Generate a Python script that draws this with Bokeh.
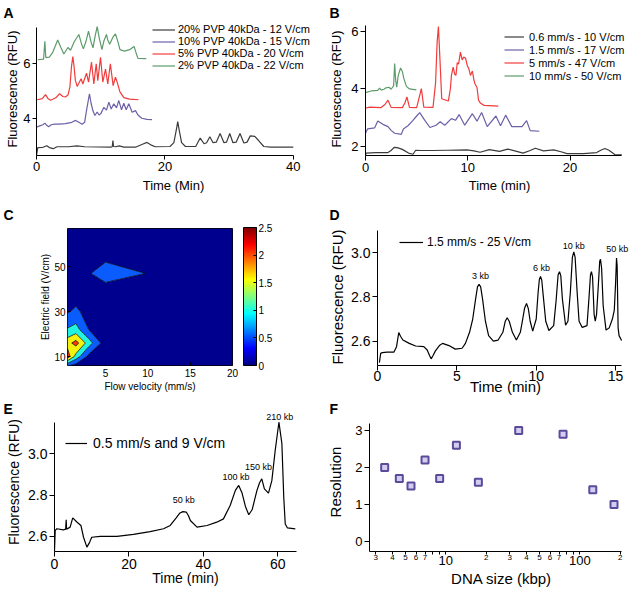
import numpy as np
from bokeh.plotting import figure
from bokeh.models import (Range1d, Legend, LegendItem, ColorBar, LinearColorMapper,
                          FixedTicker, LogAxis, PrintfTickFormatter)
from bokeh.layouts import column, row
from bokeh.embed import file_html
from bokeh.resources import INLINE
from bokeh.core.properties import value

FONT = "Liberation Sans"

# ---------------- data ----------------
# Panel A: PVP concentrations
a_labels = ["20% PVP 40kDa - 12 V/cm", "10% PVP 40kDa - 15 V/cm",
            "5% PVP 40kDa - 20 V/cm", "2% PVP 40kDa - 22 V/cm"]
a_black_t = [0, 0.2, 1.0, 1.6, 2.0, 2.6, 3.2, 5.0, 6.3, 7.5, 11.6, 11.8, 11.9, 12.0, 12.3, 12.9, 13.6,
             15.5, 16.6, 17.2, 17.8, 18.5, 20.8, 21.4, 21.8, 22.0, 22.2, 22.6, 23.2, 24.8, 25.5, 26.1,
             26.5, 27.0, 27.5, 28.0, 28.6, 29.2, 29.6, 30.1, 30.6, 31.1, 31.7, 32.3, 32.8, 33.3, 34.0,
             34.6, 35.4, 36.5, 40.0]
a_black_y = [2.63, 2.92, 2.93, 2.99, 2.92, 2.88, 2.95, 2.95, 2.98, 2.95, 2.94, 2.95, 3.18, 2.96, 2.95,
             2.98, 2.94, 2.94, 3.05, 3.11, 3.02, 2.95, 2.96, 3.10, 3.60, 3.88, 3.60, 3.10, 2.96, 2.96,
             3.27, 3.06, 3.10, 3.32, 3.10, 3.12, 3.44, 3.10, 3.12, 3.44, 3.10, 3.12, 3.44, 3.09, 3.12,
             3.35, 3.33, 3.18, 2.96, 2.94, 2.94]
a_purple_t = [0.0, 0.5, 1.0, 1.3, 1.6, 1.9, 2.3, 2.8, 3.5, 4.5, 5.5, 6.1, 6.6, 7.1, 7.5, 7.8, 8.25, 8.5,
              8.78, 9.1, 9.45, 9.75, 10.0, 10.5, 10.9, 11.27, 11.63, 12.04, 12.46, 12.82, 13.24, 13.6,
              13.97, 14.38, 14.9, 15.42, 15.8, 16.4, 17.2, 18.0]
a_purple_y = [3.67, 3.72, 3.76, 3.82, 3.74, 3.69, 3.76, 3.78, 3.78, 3.80, 3.85, 3.92, 3.85, 3.78, 3.85,
              4.30, 4.90, 4.55, 4.28, 4.10, 4.23, 4.12, 4.16, 4.40, 4.30, 4.59, 4.34, 4.53, 4.38, 4.65,
              4.31, 4.55, 4.31, 4.53, 4.22, 4.28, 4.12, 4.00, 3.96, 3.95]
a_red_t = [0.1, 0.9, 1.4, 1.8, 2.2, 3.0, 3.6, 4.1, 4.5, 4.9, 5.2, 5.45, 5.66, 5.85, 6.05, 6.33, 6.95,
           7.22, 7.79, 8.1, 8.57, 8.93, 9.3, 9.55, 9.97, 10.33, 10.75, 11.1, 11.5, 11.94, 12.3, 12.6,
           12.98, 13.6, 14.5, 15.9]
a_red_y = [4.68, 4.72, 4.87, 4.72, 4.66, 4.75, 4.90, 4.80, 4.78, 4.85, 5.14, 5.90, 6.27, 5.90, 5.40,
           5.17, 5.45, 5.26, 5.66, 5.33, 6.06, 5.26, 6.00, 5.38, 6.24, 5.33, 5.81, 5.26, 6.00, 5.20,
           5.51, 5.30, 4.98, 4.76, 4.70, 4.68]
a_green_t = [0.2, 1.1, 1.3, 1.45, 2.0, 2.5, 3.3, 3.8, 4.26, 4.9, 5.3, 5.9, 6.6, 7.0, 7.3, 7.7, 8.1, 8.5,
             8.8, 9.1, 9.45, 9.8, 10.2, 10.5, 10.9, 11.1, 11.4, 11.9, 12.3, 12.7, 13.0, 13.7, 14.5,
             15.2, 15.5, 15.8, 17.1]
a_green_y = [6.15, 6.17, 6.83, 6.23, 6.25, 6.41, 6.88, 6.60, 6.36, 6.60, 6.50, 6.82, 7.08, 6.74, 6.55,
             6.82, 7.20, 6.80, 6.59, 6.98, 7.37, 6.92, 6.52, 6.84, 7.08, 6.88, 6.72, 6.98, 7.10, 6.80,
             6.52, 6.47, 6.52, 6.64, 6.41, 6.20, 6.19]

# Panel B: flow velocity / field
b_labels = ["0.6 mm/s - 10 V/cm", "1.5 mm/s - 17 V/cm", "5 mm/s - 47 V/cm", "10 mm/s - 50 V/cm"]
b_black_t = [0, 0.05, 1.0, 2.2, 2.5, 2.8, 3.1, 3.6, 4.2, 4.65, 4.9, 5.5, 6.5, 8.0, 9.9, 10.6, 11.2,
             12.1, 13.1, 13.9, 14.6, 15.4, 16.1, 16.6, 17.4, 18.4, 19.2, 19.7, 21.3, 22.6, 23.0, 23.4,
             23.8, 24.4, 25.07]
b_black_y = [1.68, 1.76, 1.78, 1.78, 1.85, 1.96, 1.95, 1.89, 1.76, 1.72, 1.86, 1.85, 1.85, 1.86, 1.87,
             1.84, 1.79, 1.88, 1.82, 1.90, 1.84, 1.76, 1.85, 1.93, 1.84, 1.87, 1.80, 1.74, 1.74, 1.78,
             1.86, 1.92, 1.86, 1.70, 1.70]
b_purple_t = [0, 0.2, 0.9, 1.2, 1.7, 2.2, 2.5, 2.85, 3.5, 3.7, 4.15, 4.6, 5.0, 5.3, 5.8, 6.3, 6.9, 7.3,
              7.75, 8.4, 8.8, 9.15, 9.7, 10.45, 10.9, 11.35, 11.9, 12.75, 13.2, 13.7, 14.3, 15.3, 15.75,
              16.1, 17.0]
b_purple_y = [2.45, 2.60, 2.64, 2.88, 2.76, 2.68, 2.55, 2.45, 2.41, 2.60, 2.71, 2.88, 3.05, 3.17, 2.90,
              2.65, 2.73, 2.85, 2.73, 2.96, 2.90, 3.10, 2.73, 3.13, 2.87, 3.17, 2.68, 3.05, 2.71, 3.08,
              2.68, 2.68, 2.89, 2.54, 2.52]
b_red_t = [0, 0.4, 1.5, 1.9, 2.2, 2.5, 3.6, 3.85, 4.05, 4.3, 5.0, 5.25, 5.46, 5.7, 6.6, 6.85, 7.0, 7.13,
           7.28, 7.45, 8.1, 8.3, 8.4, 8.57, 8.72, 8.84, 8.97, 9.1, 9.28, 9.45, 9.6, 9.78, 9.95, 10.1,
           10.26, 10.45, 10.6, 10.7, 10.9, 11.05, 11.25, 11.6, 12.98]
b_red_y = [3.32, 3.36, 3.34, 3.45, 3.60, 3.35, 3.34, 3.50, 3.71, 3.35, 3.34, 3.70, 4.00, 3.36, 3.35,
           4.20, 5.60, 6.16, 5.00, 3.65, 3.57, 4.00, 4.46, 4.75, 4.50, 4.46, 4.90, 4.85, 5.27, 5.00,
           5.10, 5.06, 4.80, 4.70, 4.46, 4.61, 4.30, 4.17, 4.04, 3.60, 3.49, 3.42, 3.39]
b_green_t = [0, 0.55, 1.2, 1.38, 1.55, 1.8, 2.0, 2.3, 2.5, 2.75, 2.85, 2.95, 3.05, 3.2, 3.43, 3.6, 3.75,
             4.0, 4.3, 4.97]
b_green_y = [3.86, 3.92, 3.94, 4.02, 3.95, 3.98, 4.03, 4.05, 3.98, 4.10, 4.87, 4.30, 4.05, 4.46, 4.72,
             4.60, 4.35, 4.08, 3.99, 3.96]

# Panel C: resolution map (flow velocity x electric field)
c_vel = [0.5, 1.5, 3, 5, 10, 15, 20]
c_field = [6, 10, 16, 22, 30, 38, 47, 56, 67]
c_res = [
    [0.60, 0.30, 0.15, 0.05, 0.05, 0.05, 0.05],
    [2.30, 1.30, 0.35, 0.10, 0.05, 0.05, 0.05],
    [1.80, 2.20, 1.25, 0.20, 0.05, 0.05, 0.05],
    [1.05, 1.20, 0.50, 0.10, 0.05, 0.05, 0.05],
    [0.45, 0.60, 0.30, 0.10, 0.05, 0.05, 0.05],
    [0.20, 0.25, 0.15, 0.125, 0.10, 0.05, 0.05],
    [0.10, 0.15, 0.45, 0.80, 0.48, 0.10, 0.05],
    [0.05, 0.05, 0.10, 0.26, 0.15, 0.05, 0.05],
    [0.05, 0.05, 0.05, 0.05, 0.05, 0.05, 0.05],
]
c_levels = [0, 0.5, 1.0, 1.5, 2.0, 2.5]

# Panel D
d_label = "1.5 mm/s - 25 V/cm"
d_t = [0.12, 0.2, 0.3, 0.6, 1.03, 1.2, 1.34, 1.45, 1.6, 2.0, 2.4, 2.92, 3.13, 3.28, 3.38, 3.5, 3.65,
       3.9, 4.1, 4.5, 4.9, 5.33, 5.54, 5.8, 6.0, 6.18, 6.3, 6.4, 6.5, 6.62, 6.8, 7.0, 7.3, 7.6, 7.9,
       8.05, 8.17, 8.3, 8.5, 8.75, 9.0, 9.15, 9.27, 9.39, 9.5, 9.62, 9.78, 10.0, 10.12, 10.2, 10.27,
       10.35, 10.45, 10.6, 10.8, 11.1, 11.25, 11.38, 11.47, 11.55, 11.65, 11.85, 12.0, 12.15, 12.28,
       12.37, 12.45, 12.58, 12.7, 12.9, 13.2, 13.33, 13.42, 13.48, 13.55, 13.65, 13.72, 13.8, 13.92,
       14.0, 14.05, 14.12, 14.22, 14.4, 14.6, 14.8, 14.92, 15.0, 15.06, 15.1, 15.16, 15.22, 15.38]
d_y = [2.503, 2.545, 2.548, 2.55, 2.55, 2.575, 2.639, 2.622, 2.605, 2.59, 2.578, 2.575, 2.56, 2.535,
       2.52, 2.535, 2.556, 2.58, 2.59, 2.58, 2.564, 2.568, 2.59, 2.64, 2.7, 2.79, 2.845, 2.857, 2.845,
       2.79, 2.69, 2.625, 2.6, 2.605, 2.64, 2.69, 2.706, 2.69, 2.64, 2.605, 2.64, 2.7, 2.75, 2.77,
       2.748, 2.69, 2.645, 2.7, 2.82, 2.88, 2.892, 2.875, 2.8, 2.69, 2.648, 2.67, 2.78, 2.9, 2.914,
       2.895, 2.79, 2.672, 2.69, 2.82, 2.98, 3.003, 2.98, 2.82, 2.69, 2.662, 2.67, 2.8, 2.9, 2.914,
       2.89, 2.72, 2.69, 2.72, 2.86, 2.96, 2.97, 2.93, 2.76, 2.65, 2.66, 2.7, 2.74, 2.86, 2.976, 2.94,
       2.66, 2.625, 2.603]
d_peak_text = ["3 kb", "6 kb", "10 kb", "50 kb"]
d_peak_t = [6.49, 10.33, 12.37, 15.1]
d_peak_y = [2.896, 2.929, 3.031, 3.018]

# Panel E
e_label = "0.5 mm/s and 9 V/cm"
e_t = [0, 0.19, 0.64, 2.4, 3.0, 3.14, 3.25, 4.2, 4.9, 6.0, 7.1, 7.8, 8.7, 9.4, 10.0, 12.3, 16.8, 21.2,
       25.7, 29.3, 31.1, 32.7, 33.6, 34.5, 35.4, 36.0, 36.5, 38.3, 41.0, 43.6, 45.4, 47.2, 48.6, 49.5,
       50.4, 51.3, 52.2, 53.1, 54.4, 55.1, 55.7, 56.4, 57.5, 58.4, 59.3, 60.3, 61.1, 61.6, 62.0, 62.6,
       64.7]
e_y = [2.53, 2.629, 2.637, 2.632, 2.635, 2.68, 2.635, 2.645, 2.69, 2.67, 2.653, 2.596, 2.548, 2.57,
       2.596, 2.6, 2.6, 2.61, 2.623, 2.637, 2.653, 2.69, 2.712, 2.72, 2.718, 2.7, 2.677, 2.645, 2.653,
       2.669, 2.685, 2.75, 2.823, 2.847, 2.81, 2.745, 2.705, 2.729, 2.823, 2.86, 2.879, 2.83, 2.81,
       2.87, 3.016, 3.153, 3.05, 2.79, 2.66, 2.641, 2.637]
e_peak_text = ["50 kb", "100 kb", "150 kb", "210 kb"]
e_peak_t = [34.7, 48.8, 54.8, 60.5]
e_peak_y = [2.777, 2.89, 2.935, 3.176]

# Panel F
f_size = [3.5, 4.5, 5.5, 7, 9, 12, 17.5, 35, 75, 125, 180]
f_res = [2.0, 1.7, 1.5, 2.2, 1.7, 2.6, 1.6, 3.0, 2.9, 1.4, 1.0]

# ---------------- styling helpers ----------------
COL_BLACK = "#3c3c3c"
COL_PURPLE = "#6e5fa8"
COL_RED = "#f23b3b"
COL_GREEN = "#5c9c6a"


def base_fig(w, h, xr, yr, ml, mr, mt, mb, letter, loff, lstand, x_log=False):
    p = figure(width=w, height=h, x_range=Range1d(*xr), y_range=Range1d(*yr),
               x_axis_type="log" if x_log else "linear", title=letter,
               output_backend="svg", toolbar_location=None,
               min_border_left=ml, min_border_right=mr, min_border_top=mt, min_border_bottom=mb)
    p.grid.visible = False
    p.outline_line_color = None
    p.background_fill_color = "white"
    p.border_fill_color = "white"
    p.title.align = "left"
    p.title.offset = loff
    p.title.standoff = lstand
    p.title.text_font = FONT
    p.title.text_font_size = "14px"
    p.title.text_font_style = "bold"
    p.title.text_color = "black"
    p.title.vertical_align = "bottom"
    return p


def style_axis(ax, tick_fs, lab_fs, tick_out=5, tick_in=0, lstand=2, astand=2):
    ax.axis_line_color = "black"
    ax.axis_line_width = 1
    ax.major_tick_line_color = "black"
    ax.major_tick_out = tick_out
    ax.major_tick_in = tick_in
    ax.minor_tick_line_color = None
    ax.major_label_text_font = FONT
    ax.major_label_text_font_size = tick_fs
    ax.major_label_text_color = "black"
    ax.axis_label_text_font = FONT
    ax.axis_label_text_font_size = lab_fs
    ax.axis_label_text_font_style = "normal"
    ax.axis_label_text_color = "black"
    ax.major_label_standoff = lstand
    ax.axis_label_standoff = astand


def igor(p, xticks, yticks, xb, yb, xlabel, ylabel, tick_fs, lab_fs, yfmt=None,
         tick_out=5, ystand=2, xstand=2, xlstand=2):
    style_axis(p.xaxis[0], tick_fs, lab_fs, tick_out=tick_out, astand=xstand, lstand=xlstand)
    style_axis(p.yaxis[0], tick_fs, lab_fs, tick_out=tick_out, astand=ystand)
    p.xaxis[0].ticker = FixedTicker(ticks=xticks, minor_ticks=[])
    p.yaxis[0].ticker = FixedTicker(ticks=yticks, minor_ticks=[])
    p.xaxis[0].bounds = xb
    p.yaxis[0].bounds = yb
    p.xaxis[0].axis_label = xlabel
    p.yaxis[0].axis_label = ylabel
    if yfmt:
        p.yaxis[0].formatter = PrintfTickFormatter(format=yfmt)


def legend(p, items, x, y, fs, lh, gw, stand):
    leg = Legend(items=[LegendItem(label=l, renderers=[r]) for l, r in items],
                 location=(x, y), border_line_color=None, background_fill_alpha=0,
                 padding=0, margin=0, spacing=0, label_height=lh, glyph_height=lh,
                 glyph_width=gw, label_standoff=stand, label_text_font=FONT,
                 label_text_font_size=fs, label_text_color="black")
    p.add_layout(leg)


# Frames within one row share top/bottom borders (Bokeh aligns them).
# ---------------- Panel A ----------------
pA = base_fig(316, 198, (0, 42.68), (2.629, 7.52), 36, 6, 22, 43, "A", -33, 4)
igor(pA, [0, 20, 40], [4, 6], (0, 40), (2.629, 7.35), "Time (Min)", "Fluorescence (RFU)",
     "13px", "13px", tick_out=4, ystand=0, xstand=4)
rA = []
for t, y, c in [(a_black_t, a_black_y, COL_BLACK), (a_purple_t, a_purple_y, COL_PURPLE),
                (a_red_t, a_red_y, COL_RED), (a_green_t, a_green_y, COL_GREEN)]:
    rA.append(pA.line(t, y, line_color=c, line_width=1.2))
legend(pA, list(zip(a_labels, rA)), 116, 84, "11px", 11, 23, 3)

# ---------------- Panel B ----------------
pB = base_fig(317, 198, (0, 26.2), (1.677, 6.30), 49, 0, 22, 43, "B", -36, 4)
igor(pB, [0, 10, 20], [2, 4, 6], (0, 25), (1.677, 6.2), "Time (min)", "Fluorescence (RFU)",
     "13px", "13px", ystand=4, xstand=3)
rB = []
for t, y, c in [(b_black_t, b_black_y, COL_BLACK), (b_purple_t, b_purple_y, COL_PURPLE),
                (b_red_t, b_red_y, COL_RED), (b_green_t, b_green_y, COL_GREEN)]:
    rB.append(pB.line(t, y, line_color=c, line_width=1.2))
legend(pB, list(zip(b_labels, rB)), 139, 73, "11px", 13, 20, 5)

# ---------------- Panel C ----------------
def jet(v):
    r = min(max(1.5 - abs(4 * v - 3), 0), 1)
    g = min(max(1.5 - abs(4 * v - 2), 0), 1)
    b = min(max(1.5 - abs(4 * v - 1), 0), 1)
    return "#%02x%02x%02x" % (int(r * 255), int(g * 255), int(b * 255))

jet256 = [jet(i / 255) for i in range(256)]
band_colors = ["#00008f", "#0b5cff", "#22f2e0", "#f2f20f", "#ff3a00"]

pC = base_fig(316, 199, (0.5, 20), (6, 67), 67, 84, 29, 32, "C", -64, 12)
pC.outline_line_color = "black"
pC.outline_line_width = 1
pC.contour(x=c_vel, y=c_field, z=np.array(c_res), levels=c_levels,
           fill_color=band_colors, line_color="black", line_width=0.7)
for ax in (pC.xaxis[0], pC.yaxis[0]):
    style_axis(ax, "10px", "10px", tick_out=0, tick_in=3, lstand=2, astand=0)
    ax.axis_line_color = None
pC.xaxis[0].major_label_standoff = 3
pC.xaxis[0].axis_label_standoff = 1
pC.xaxis[0].ticker = FixedTicker(ticks=[5, 10, 15, 20], minor_ticks=[])
pC.yaxis[0].ticker = FixedTicker(ticks=[10, 30, 50], minor_ticks=[])
pC.xaxis[0].axis_label = "Flow velocity (mm/s)"
pC.yaxis[0].axis_label = "Electric field (V/cm)"
cmap = LinearColorMapper(palette=jet256, low=0, high=2.5)
cbar = ColorBar(color_mapper=cmap, ticker=FixedTicker(ticks=c_levels, minor_ticks=[]),
                major_label_overrides={0: "0", 0.5: "0.5", 1: "1", 1.5: "1.5", 2: "2", 2.5: "2.5"},
                width=13, height=138, location=(11, 0), padding=0, margin=0,
                bar_line_color="black", bar_line_width=1, major_tick_line_color="black",
                major_tick_in=3, major_tick_out=0, label_standoff=2,
                major_label_text_font=FONT, major_label_text_font_size="10px",
                major_label_text_color="black", background_fill_alpha=0,
                border_line_color=None)
pC.add_layout(cbar, "right")

# ---------------- Panel D ----------------
pD = base_fig(317, 199, (0, 16.13), (2.49, 3.109), 61, 0, 29, 32, "D", -48, 12)
igor(pD, [0, 5, 10, 15], [2.6, 2.8, 3.0], (0, 15.4), (2.49, 3.10), "Time (min)",
     "Fluorescence (RFU)", "14px", "15px", yfmt="%.1f", ystand=2, xstand=-6, xlstand=0)
rD = pD.line(d_t, d_y, line_color="black", line_width=1.2)
pD.text(x=d_peak_t, y=d_peak_y, text=d_peak_text, text_font=value(FONT), text_font_size="9px",
        text_align="center", text_baseline="middle", text_color="black")
legend(pD, [(d_label, rD)], 22, 116, "12px", 14, 24, 4)

# ---------------- Panel E ----------------
pE = base_fig(316, 198, (0, 70.4), (2.527, 3.20), 54, 0, 15, 44, "E", -51, -8)
igor(pE, [0, 20, 40, 60], [2.6, 2.8, 3.0], (0, 65), (2.527, 3.153), "Time (min)",
     "Fluorescence (RFU)", "14px", "14px", yfmt="%.1f", ystand=3, xstand=-2)
rE = pE.line(e_t, e_y, line_color="black", line_width=1.2)
pE.text(x=e_peak_t, y=e_peak_y, text=e_peak_text, text_font=value(FONT), text_font_size="9px",
        text_align="center", text_baseline="middle", text_color="black")
legend(pE, [(e_label, rE)], 11, 100, "14px", 16, 22, 6)

# ---------------- Panel F ----------------
pF = base_fig(317, 198, (2.696, 251.6), (-0.27, 3.486), 53, 0, 15, 44, "F", -40, -8, x_log=True)
style_axis(pF.yaxis[0], "13px", "15px", tick_out=5, astand=8)
pF.yaxis[0].ticker = FixedTicker(ticks=[0, 1, 2, 3], minor_ticks=[])
pF.yaxis[0].bounds = (-0.27, 3.18)
pF.yaxis[0].axis_label = "Resolution"
minor_lab = {3: "3", 4: "4", 5: "5", 6: "6", 7: "7", 8: "", 9: "", 10: "",
             20: "2", 30: "3", 40: "4", 50: "5", 60: "6", 70: "7", 80: "", 90: "", 100: "", 200: "2"}
axF = pF.xaxis[0]
style_axis(axF, "8px", "15px", tick_out=3, lstand=0)
axF.ticker = FixedTicker(ticks=list(minor_lab.keys()), minor_ticks=[])
axF.major_label_overrides = minor_lab
axF.bounds = (2.696, 204)
axF2 = LogAxis(ticker=FixedTicker(ticks=[10, 100], minor_ticks=[]))
style_axis(axF2, "13px", "15px", tick_out=0, lstand=-7, astand=2)
axF2.axis_line_color = None
axF2.major_tick_line_color = None
axF2.major_label_overrides = {10: "10", 100: "100"}
axF2.axis_label = "DNA size (kbp)"
pF.add_layout(axF2, "below")
pF.scatter(f_size, f_res, marker="square", size=7, fill_color="#d4cdef",
           line_color="#5a4b9b", line_width=2)

layout = column(row(pA, pB), row(pC, pD), row(pE, pF))
open("out.html", "w").write(file_html(layout, INLINE))
